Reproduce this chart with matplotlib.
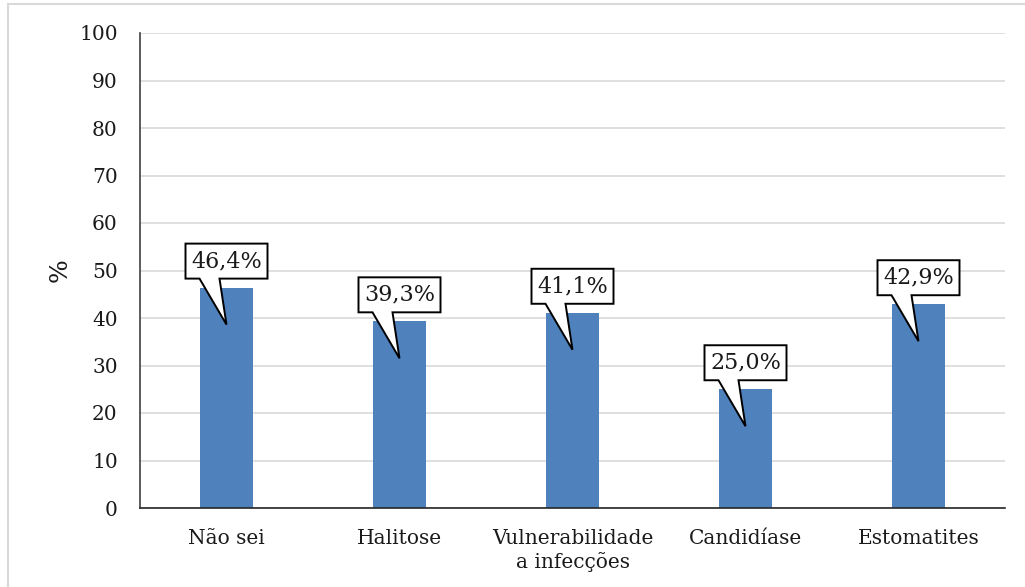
import matplotlib
matplotlib.use("Agg")
import matplotlib.pyplot as plt
from matplotlib.patches import Polygon, Rectangle

categories = ["Não sei", "Halitose", "Vulnerabilidade\na infecções", "Candidíase", "Estomatites"]
values = [46.4, 39.3, 41.1, 25.0, 42.9]
value_labels = ["46,4%", "39,3%", "41,1%", "25,0%", "42,9%"]
yticks = list(range(0, 101, 10))

plt.rcParams["font.family"] = ["DejaVu Serif"]
DPI = 100
fig = plt.figure(figsize=(10.25, 5.87), dpi=DPI)
ax = fig.add_axes([140 / 1025, 1 - 508 / 587, 865 / 1025, 475 / 587])

x = list(range(len(categories)))
ax.bar(x, values, width=0.31, color="#4F81BD", zorder=2)

ax.set_xlim(-0.5, len(categories) - 0.5)
ax.set_ylim(0, 100)
ax.set_yticks(yticks)
ax.set_yticklabels([str(t) for t in yticks])
ax.set_xticks(x)
ax.set_xticklabels(categories, linespacing=1.25)
ax.tick_params(axis="y", length=0, pad=16, labelsize=14.5, colors="#1a1a1a")
ax.tick_params(axis="x", length=0, pad=15, labelsize=14.5, colors="#1a1a1a")
ax.yaxis.grid(True, color="#D9D9D9", linewidth=1.2, zorder=0)
ax.set_axisbelow(True)
for side in ("top", "right"):
    ax.spines[side].set_visible(False)
ax.spines["left"].set_color("#404040")
ax.spines["bottom"].set_color("#262626")
ax.spines["left"].set_linewidth(1.2)
ax.spines["bottom"].set_linewidth(1.2)
ax.set_ylabel("%", fontsize=18, color="#1a1a1a")
ax.yaxis.set_label_coords(-68 / 865, 0.5)

# Callout boxes with a pointer reaching into each bar
fig.canvas.draw()
to_data = ax.transData.inverted()
for xi, v, lab in zip(x, values, value_labels):
    cx, top = ax.transData.transform((xi, v))
    half_w = 41
    box_top = top + 44
    box_bot = top + 9
    tip = (cx, top - 37)
    pts = [
        (cx - half_w, box_top),
        (cx + half_w, box_top),
        (cx + half_w, box_bot),
        (cx - 7, box_bot),
        tip,
        (cx - 27, box_bot),
        (cx - half_w, box_bot),
    ]
    pts = [tuple(to_data.transform(p)) for p in pts]
    ax.add_patch(Polygon(pts, closed=True, facecolor="white", edgecolor="black",
                         linewidth=1.4, zorder=4, clip_on=False))
    tx, ty = to_data.transform((cx, (box_top + box_bot) / 2))
    ax.text(tx, ty, lab, ha="center", va="center", fontsize=16, color="#1a1a1a", zorder=5)

# Outer frame of the chart area
fig.patches.append(Rectangle((8 / 1025, -0.1), 1.2, 1 - 4 / 587 + 0.1,
                             transform=fig.transFigure, fill=False,
                             edgecolor="#D9D9D9", linewidth=1.5))

fig.savefig("out.png", dpi=DPI)
